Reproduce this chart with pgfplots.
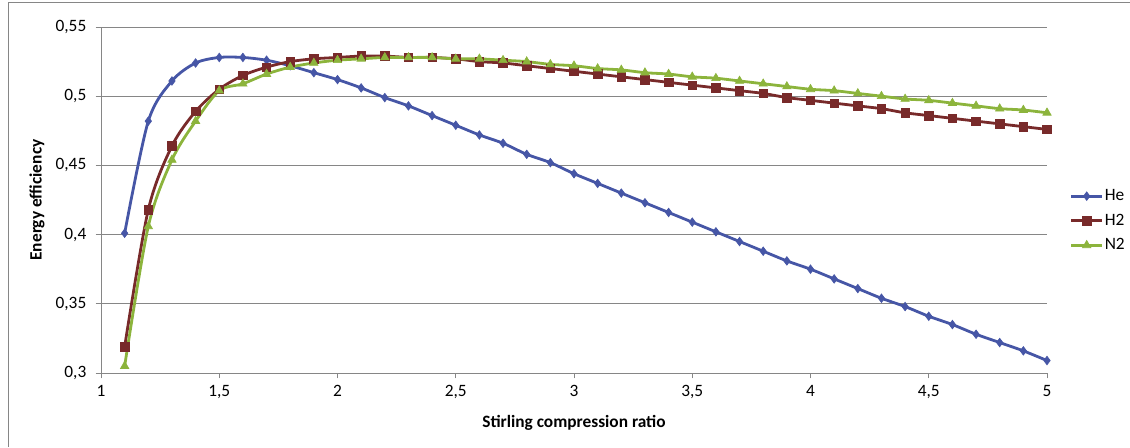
\documentclass[border=0pt]{standalone}
\usepackage{pgfplots}
\pgfplotsset{compat=1.18}
\usepackage{fontspec}
\setmainfont{Carlito}
\definecolor{cHe}{RGB}{70,86,166}
\definecolor{cH}{RGB}{120,42,42}
\definecolor{cN}{RGB}{140,180,60}
\definecolor{gridc}{RGB}{134,134,134}
\begin{document}
\begin{tikzpicture}
\useasboundingbox (0,0) rectangle (847.5pt,335.25pt);
\draw[gridc, line width=0.75pt] (6pt,0pt) -- (6pt,333pt) -- (847.5pt,333pt);
\begin{axis}[
  at={(75.75pt,55.5pt)}, anchor=south west,
  scale only axis, width=709.5pt, height=259.5pt,
  xmin=1, xmax=5, ymin=0.3, ymax=0.55,
  xtick={1,1.5,...,5}, ytick={0.3,0.35,...,0.56},
  axis lines*=left,
  axis line style={gridc, line width=0.75pt, -},
  tick style={gridc, line width=0.75pt},
  tick align=outside, major tick length=4pt,
  ymajorgrids, grid style={gridc, line width=0.75pt},
  xticklabel style={yshift=-2pt, /pgf/number format/.cd, use comma, fixed, precision=2},
  yticklabel style={xshift=-3.5pt, /pgf/number format/.cd, use comma, fixed, precision=2},
  /pgf/number format/assume math mode=true,
  ticklabel style={font=\fontsize{13}{15}\selectfont, black},
  xlabel={\textbf{Stirling compression ratio}},
  ylabel={\textbf{Energy efficiency}},
  label style={font=\fontsize{13}{15}\selectfont},
  xlabel style={at={(rel axis cs:0.5,-0.1445)}, anchor=center},
  ylabel style={at={(rel axis cs:-0.0677,0.5)}, anchor=center, rotate=0},
  legend style={at={(rel axis cs:1.024,0.44)}, anchor=west, draw=none, fill=none,
    font=\fontsize{13}{15}\selectfont, row sep=6.5pt, inner sep=0pt,
    nodes={inner sep=1pt}},
  legend cell align=left,
  legend image code/.code={
    \draw[#1] (0pt,0pt) -- (23pt,0pt);
    \draw[#1, only marks] plot coordinates {(11.5pt,0pt)};
  },
  clip=false,
  every axis plot/.append style={line width=2.1pt, smooth, tension=0.5},
]
\addplot[color=cHe, mark=diamond*, mark size=3.2pt, mark options={solid, line width=0.5pt}] coordinates {
(1.1,0.401)(1.2,0.482)(1.3,0.511)(1.4,0.524)(1.5,0.528)(1.6,0.528)(1.7,0.526)(1.8,0.522)(1.9,0.517)(2.0,0.512)
(2.1,0.506)(2.2,0.499)(2.3,0.493)(2.4,0.486)(2.5,0.479)(2.6,0.472)(2.7,0.466)(2.8,0.458)(2.9,0.452)(3.0,0.444)
(3.1,0.437)(3.2,0.430)(3.3,0.423)(3.4,0.416)(3.5,0.409)(3.6,0.402)(3.7,0.395)(3.8,0.388)(3.9,0.381)(4.0,0.375)
(4.1,0.368)(4.2,0.361)(4.3,0.354)(4.4,0.348)(4.5,0.341)(4.6,0.335)(4.7,0.328)(4.8,0.322)(4.9,0.316)(5.0,0.309)};
\addlegendentry{He}
\addplot[color=cH, mark=square*, mark size=3.2pt, mark options={solid, line width=0.5pt}] coordinates {
(1.1,0.319)(1.2,0.418)(1.3,0.464)(1.4,0.489)(1.5,0.505)(1.6,0.515)(1.7,0.521)(1.8,0.525)(1.9,0.527)(2.0,0.528)
(2.1,0.529)(2.2,0.529)(2.3,0.528)(2.4,0.528)(2.5,0.527)(2.6,0.525)(2.7,0.524)(2.8,0.522)(2.9,0.520)(3.0,0.518)
(3.1,0.516)(3.2,0.514)(3.3,0.512)(3.4,0.510)(3.5,0.508)(3.6,0.506)(3.7,0.504)(3.8,0.502)(3.9,0.499)(4.0,0.497)
(4.1,0.495)(4.2,0.493)(4.3,0.491)(4.4,0.488)(4.5,0.486)(4.6,0.484)(4.7,0.482)(4.8,0.480)(4.9,0.478)(5.0,0.476)};
\addlegendentry{H2}
\addplot[color=cN, mark=triangle*, mark size=3.6pt, mark options={solid, line width=0.5pt}] coordinates {
(1.1,0.305)(1.2,0.406)(1.3,0.454)(1.4,0.482)(1.5,0.504)(1.6,0.509)(1.7,0.516)(1.8,0.521)(1.9,0.524)(2.0,0.526)
(2.1,0.527)(2.2,0.528)(2.3,0.528)(2.4,0.528)(2.5,0.527)(2.6,0.527)(2.7,0.526)(2.8,0.525)(2.9,0.523)(3.0,0.522)
(3.1,0.520)(3.2,0.519)(3.3,0.517)(3.4,0.516)(3.5,0.514)(3.6,0.513)(3.7,0.511)(3.8,0.509)(3.9,0.507)(4.0,0.505)
(4.1,0.504)(4.2,0.502)(4.3,0.500)(4.4,0.498)(4.5,0.497)(4.6,0.495)(4.7,0.493)(4.8,0.491)(4.9,0.490)(5.0,0.488)};
\addlegendentry{N2}
\end{axis}
\end{tikzpicture}
\end{document}
